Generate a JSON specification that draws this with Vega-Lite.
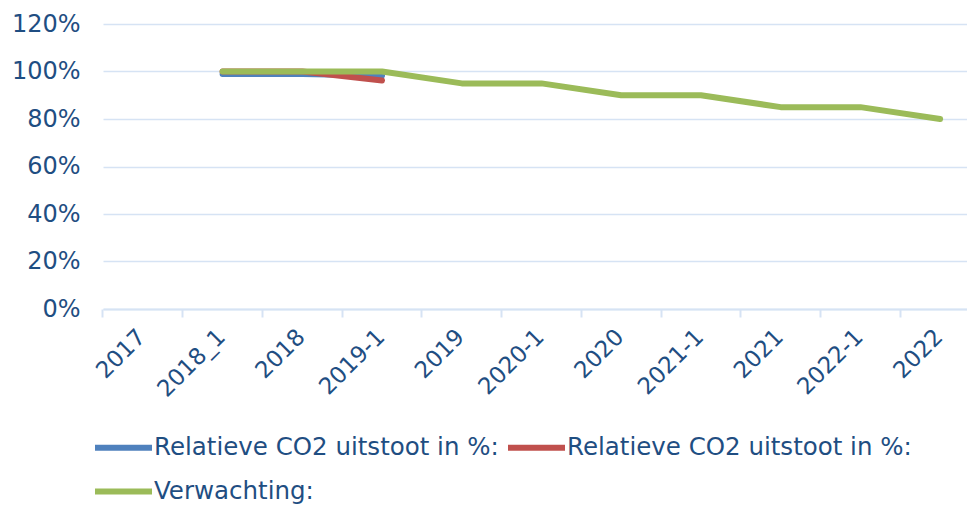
{
  "$schema": "https://vega.github.io/schema/vega-lite/v6.json",
  "width": 864,
  "height": 285,
  "autosize": {"type": "none"},
  "padding": {"left": 103, "top": 24, "right": 0, "bottom": 197},
  "background": "white",
  "config": {"view": {"stroke": null}, "font": "DejaVu Sans"},
  "data": {
    "values": [
      {"period": "2018_1", "series": "A", "value": 0.99},
      {"period": "2018", "series": "A", "value": 0.99},
      {"period": "2019-1", "series": "A", "value": 0.983},
      {"period": "2018_1", "series": "B", "value": 1.0},
      {"period": "2018", "series": "B", "value": 1.0},
      {"period": "2019-1", "series": "B", "value": 0.962},
      {"period": "2018_1", "series": "C", "value": 1.0},
      {"period": "2018", "series": "C", "value": 1.0},
      {"period": "2019-1", "series": "C", "value": 1.0},
      {"period": "2019", "series": "C", "value": 0.95},
      {"period": "2020-1", "series": "C", "value": 0.95},
      {"period": "2020", "series": "C", "value": 0.9},
      {"period": "2021-1", "series": "C", "value": 0.9},
      {"period": "2021", "series": "C", "value": 0.85},
      {"period": "2022-1", "series": "C", "value": 0.85},
      {"period": "2022", "series": "C", "value": 0.8}
    ]
  },
  "mark": {"type": "line", "strokeWidth": 6, "strokeCap": "round", "strokeJoin": "round"},
  "encoding": {
    "x": {
      "field": "period",
      "type": "nominal",
      "sort": ["2017", "2018_1", "2018", "2019-1", "2019", "2020-1", "2020", "2021-1", "2021", "2022-1", "2022"],
      "bandPosition": 0.5,
      "scale": {
        "type": "band",
        "domain": ["2017", "2018_1", "2018", "2019-1", "2019", "2020-1", "2020", "2021-1", "2021", "2022-1", "2022"],
        "range": [0, 877],
        "paddingInner": 0,
        "paddingOuter": 0
      },
      "axis": {
        "title": null,
        "grid": false,
        "bandPosition": 0,
        "domainColor": "#d6e3f4",
        "domainWidth": 2,
        "tickColor": "#d6e3f4",
        "tickWidth": 2,
        "tickSize": 8,
        "labelAngle": -45,
        "labelAlign": "right",
        "labelBaseline": "middle",
        "labelOffset": -1,
        "labelPadding": 16,
        "labelFontSize": 23,
        "labelColor": "#1f4e82",
        "labelOverlap": false,
        "labelBound": false,
        "labelFlush": false
      }
    },
    "y": {
      "field": "value",
      "type": "quantitative",
      "scale": {"domain": [0, 1.2], "nice": false},
      "axis": {
        "title": null,
        "values": [0, 0.2, 0.4, 0.6, 0.8, 1.0, 1.2],
        "format": ".0%",
        "domain": false,
        "ticks": false,
        "tickSize": 0,
        "labelPadding": 23,
        "labelFontSize": 24,
        "labelColor": "#1f4e82",
        "gridColor": "#d6e3f4",
        "gridWidth": 1.5
      }
    },
    "color": {
      "field": "series",
      "type": "nominal",
      "scale": {"domain": ["A", "B", "C"], "range": ["#4f81bd", "#c0504d", "#9bbb59"]},
      "legend": {
        "title": null,
        "orient": "none",
        "legendX": -11,
        "legendY": 392,
        "direction": "horizontal",
        "columns": 2,
        "symbolType": "stroke",
        "symbolSize": 3249,
        "symbolStrokeWidth": 6,
        "labelFontSize": 24.5,
        "labelColor": "#1f4e82",
        "labelOffset": -1,
        "columnPadding": -3,
        "rowPadding": -12,
        "labelLimit": 0,
        "labelExpr": "datum.value == 'C' ? 'Verwachting:' : 'Relatieve CO2 uitstoot in %:'"
      }
    }
  }
}
